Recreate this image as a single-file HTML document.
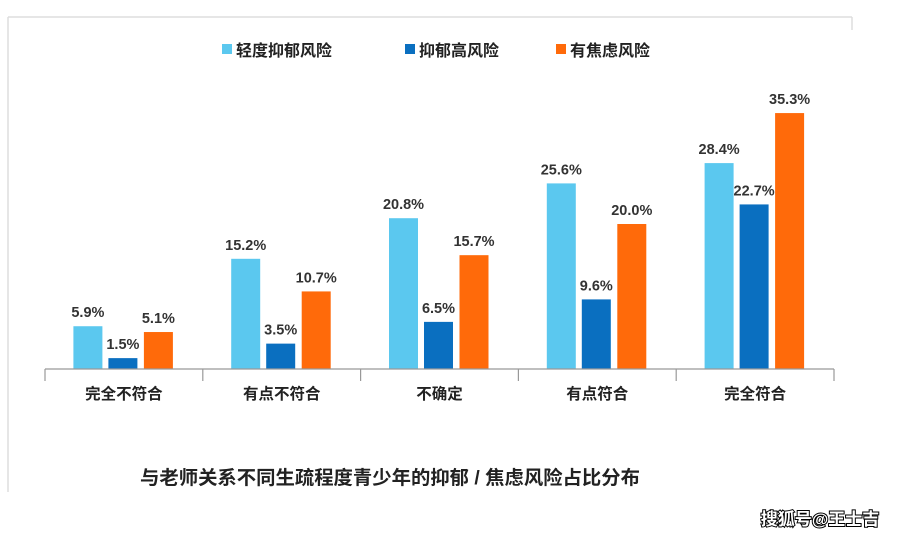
<!DOCTYPE html>
<html><head><meta charset="utf-8"><style>
body{margin:0;background:#fff;}
svg text{font-family:"Liberation Sans","Noto Sans CJK SC",sans-serif;}
</style></head><body>
<svg width="899" height="538" viewBox="0 0 899 538">
<line x1="8" y1="17" x2="852" y2="17" stroke="#ddd" stroke-width="1.5"/>
<line x1="8" y1="17" x2="8" y2="492" stroke="#ddd" stroke-width="1.5"/>
<line x1="852" y1="17" x2="852" y2="30" stroke="#ddd" stroke-width="1.5"/>
<g id="legend"></g>
<g id="bars"></g>
<g id="axis"></g>
<text x="390" y="484" text-anchor="middle" font-size="19" font-weight="bold" fill="#222" textLength="500" lengthAdjust="spacingAndGlyphs">与老师关系不同生疏程度青少年的抑郁 / 焦虑风险占比分布</text>
<text x="820" y="525" text-anchor="middle" font-size="17" font-weight="bold" fill="#fff" stroke="#000" stroke-width="2" paint-order="stroke">搜狐号@王士吉</text>
</svg>
<script>
const categories=["完全不符合","有点不符合","不确定","有点符合","完全符合"];
const seriesNames=["轻度抑郁风险","抑郁高风险","有焦虑风险"];
const mild=[5.9,15.2,20.8,25.6,28.4];
const high=[1.5,3.5,6.5,9.6,22.7];
const anxiety=[5.1,10.7,15.7,20.0,35.3];
const colors=["#5bc8ef","#0a6fc0","#ff6a0a"];
const series=[mild,high,anxiety];
const NS="http://www.w3.org/2000/svg";
const base=369,ppu=7.25,x0=45,gw=157.8,bw=29;
const offs=[-36,-1,34.5];
function y(v){return base-v*ppu;}
function cx(i){return x0+gw*(i+0.5);}
function mk(tag,attrs,parent){const e=document.createElementNS(NS,tag);for(const k in attrs)e.setAttribute(k,attrs[k]);parent.appendChild(e);return e;}
const bars=document.getElementById('bars'),axis=document.getElementById('axis'),legend=document.getElementById('legend');
series.forEach((s,si)=>{s.forEach((v,i)=>{
 const r=mk('rect',{x:cx(i)+offs[si]-bw/2,y:y(v),width:bw,height:v*ppu,fill:colors[si]},bars);
 
 
 const t=mk('text',{x:cx(i)+offs[si],y:y(v)-9,'text-anchor':'middle','font-size':'14.5','font-weight':'bold',fill:'#333'},bars);
 t.textContent=v.toFixed(1)+'%';
 
 
});});
const l=mk('line',{x1:x0,y1:base,x2:x0+gw*5,y2:base,stroke:'#999','stroke-width':1.2},axis);


for(let i=0;i<=5;i++){const t=mk('line',{x1:x0+gw*i,y1:base,x2:x0+gw*i,y2:base+12,stroke:'#999','stroke-width':1.2},axis);
 
 }
categories.forEach((c,i)=>{const t=mk('text',{x:cx(i),y:399,'text-anchor':'middle','font-size':'15.5','font-weight':'bold',fill:'#222'},axis);t.textContent=c;
 
 });
const lx=[222,405,556];
seriesNames.forEach((n,i)=>{
 const r=mk('rect',{x:lx[i],y:44,width:10,height:10,fill:colors[i]},legend);
 
 
 const t=mk('text',{x:lx[i]+14,y:56,'font-size':'16','font-weight':'bold',fill:'#222'},legend);t.textContent=n;
 
 
});
</script>
</body></html>
